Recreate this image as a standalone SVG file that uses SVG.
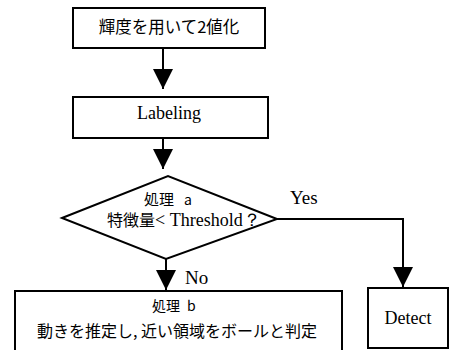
<svg xmlns="http://www.w3.org/2000/svg" width="452" height="350" viewBox="0 0 452 350">
<defs>
<marker id="ah" markerUnits="userSpaceOnUse" markerWidth="20" markerHeight="20" viewBox="0 0 19 19" refX="19" refY="9.5" orient="auto">
<path d="M0,0 L19,9.5 L0,19 Z" fill="#000"/>
</marker>
<style>
.box{fill:#fff;stroke:#000;stroke-width:2}
.ln{fill:none;stroke:#000;stroke-width:2;marker-end:url(#ah)}
.jp{font-family:"Noto Sans CJK JP","Noto Sans",sans-serif;fill:#000}
.en{font-family:"Liberation Serif",serif;fill:#000}
</style>
</defs>
<rect width="452" height="350" fill="#fff"/>
<g id="connectors">
<line class="ln" x1="163" y1="48" x2="163" y2="89"/>
<line class="ln" x1="163" y1="138" x2="163" y2="169"/>
<line class="ln" x1="166" y1="259" x2="166" y2="290"/>
<polyline class="ln" points="277,219 403,219 403,287"/>
<text class="en" x="290" y="204" font-size="19">Yes</text>
<text class="en" x="185" y="284" font-size="19">No</text>
</g>
<g id="n1">
<rect class="box" x="73" y="8" width="192" height="40"/>
<text class="jp" x="169" y="33" font-size="16.5" text-anchor="middle">輝度を用いて2値化</text>
</g>
<g id="n2">
<rect class="box" x="73" y="97" width="195" height="41"/>
<text class="en" x="169" y="119" font-size="18" text-anchor="middle">Labeling</text>
</g>
<g id="n3">
<polygon class="box" points="62,218 168,176 277,219 166,259"/>
<text class="jp" x="144" y="205" font-size="15">処理<tspan x="184" font-size="14">a</tspan></text>
<text x="107" y="226"><tspan class="jp" font-size="16">特徴量</tspan><tspan class="en" font-size="18">&lt; Threshold？</tspan></text>
</g>
<g id="n4">
<rect class="box" x="15" y="291" width="327" height="70"/>
<text class="jp" x="152" y="311" font-size="14">処理<tspan x="187" font-size="14">b</tspan></text>
<text class="jp" x="177" y="337" font-size="16" text-anchor="middle">動きを推定し, 近い領域をボールと判定</text>
</g>
<g id="n5">
<rect class="box" x="368" y="288" width="80" height="60"/>
<text class="en" x="408" y="324" font-size="18" text-anchor="middle">Detect</text>
</g>
</svg>
